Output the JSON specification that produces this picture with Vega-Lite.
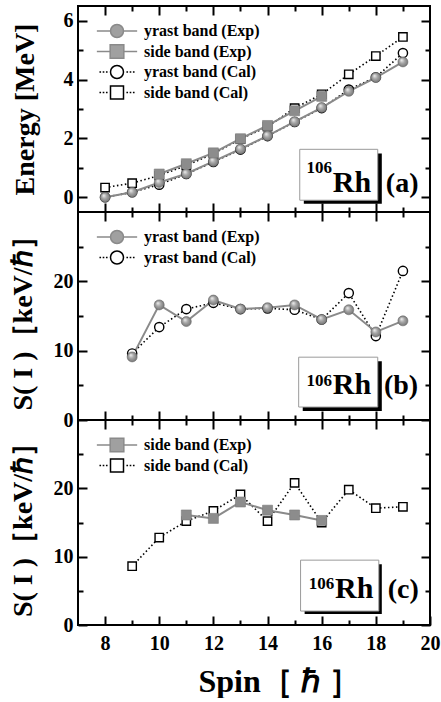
{
  "$schema": "https://vega.github.io/schema/vega-lite/v6.json",
  "padding": {"left": 8, "top": 4, "right": 0, "bottom": 0},
  "spacing": 0,
  "bounds": "flush",
  "resolve": {"scale": {"stroke": "independent"}, "legend": {"stroke": "independent"}},
  "config": {
    "view": {"stroke": "black", "strokeWidth": 2},
    "axis": {"domain": false, "grid": false, "tickColor": "black", "tickWidth": 2,
      "labelFont": "Liberation Serif", "labelFontWeight": "bold", "labelFontSize": 20, "labelColor": "black",
      "titleFont": "Liberation Serif", "titleFontWeight": "bold", "titleColor": "black", "titleFontSize": 28, "labelPadding": 14},
    "legend": {"labelFont": "Liberation Serif", "labelFontWeight": "bold", "labelFontSize": 16, "labelColor": "black"}
  },
  "datasets": {
    "energy": [
      {"series": "yrast band (Exp)", "spin": 8, "value": 0.0},
      {"series": "yrast band (Exp)", "spin": 9, "value": 0.17},
      {"series": "yrast band (Exp)", "spin": 10, "value": 0.5},
      {"series": "yrast band (Exp)", "spin": 11, "value": 0.8},
      {"series": "yrast band (Exp)", "spin": 12, "value": 1.22},
      {"series": "yrast band (Exp)", "spin": 13, "value": 1.64},
      {"series": "yrast band (Exp)", "spin": 14, "value": 2.09},
      {"series": "yrast band (Exp)", "spin": 15, "value": 2.57},
      {"series": "yrast band (Exp)", "spin": 16, "value": 3.05},
      {"series": "yrast band (Exp)", "spin": 17, "value": 3.6},
      {"series": "yrast band (Exp)", "spin": 18, "value": 4.07},
      {"series": "yrast band (Exp)", "spin": 19, "value": 4.6},
      {"series": "side band (Exp)", "spin": 10, "value": 0.79},
      {"series": "side band (Exp)", "spin": 11, "value": 1.14},
      {"series": "side band (Exp)", "spin": 12, "value": 1.51},
      {"series": "side band (Exp)", "spin": 13, "value": 1.99},
      {"series": "side band (Exp)", "spin": 14, "value": 2.44},
      {"series": "side band (Exp)", "spin": 15, "value": 2.94},
      {"series": "side band (Exp)", "spin": 16, "value": 3.43},
      {"series": "yrast band (Cal)", "spin": 8, "value": 0.0},
      {"series": "yrast band (Cal)", "spin": 9, "value": 0.17},
      {"series": "yrast band (Cal)", "spin": 10, "value": 0.43},
      {"series": "yrast band (Cal)", "spin": 11, "value": 0.79},
      {"series": "yrast band (Cal)", "spin": 12, "value": 1.2},
      {"series": "yrast band (Cal)", "spin": 13, "value": 1.62},
      {"series": "yrast band (Cal)", "spin": 14, "value": 2.08},
      {"series": "yrast band (Cal)", "spin": 15, "value": 2.56},
      {"series": "yrast band (Cal)", "spin": 16, "value": 3.03},
      {"series": "yrast band (Cal)", "spin": 17, "value": 3.66},
      {"series": "yrast band (Cal)", "spin": 18, "value": 4.08},
      {"series": "yrast band (Cal)", "spin": 19, "value": 4.9},
      {"series": "side band (Cal)", "spin": 8, "value": 0.33},
      {"series": "side band (Cal)", "spin": 9, "value": 0.48},
      {"series": "side band (Cal)", "spin": 10, "value": 0.74},
      {"series": "side band (Cal)", "spin": 11, "value": 1.08},
      {"series": "side band (Cal)", "spin": 12, "value": 1.48},
      {"series": "side band (Cal)", "spin": 13, "value": 1.98},
      {"series": "side band (Cal)", "spin": 14, "value": 2.4},
      {"series": "side band (Cal)", "spin": 15, "value": 3.03},
      {"series": "side band (Cal)", "spin": 16, "value": 3.5},
      {"series": "side band (Cal)", "spin": 17, "value": 4.18},
      {"series": "side band (Cal)", "spin": 18, "value": 4.8},
      {"series": "side band (Cal)", "spin": 19, "value": 5.45}
    ],
    "sy": [
      {"series": "yrast band (Exp)", "spin": 9, "value": 9.1},
      {"series": "yrast band (Exp)", "spin": 10, "value": 16.6},
      {"series": "yrast band (Exp)", "spin": 11, "value": 14.2},
      {"series": "yrast band (Exp)", "spin": 12, "value": 17.3},
      {"series": "yrast band (Exp)", "spin": 13, "value": 16.0},
      {"series": "yrast band (Exp)", "spin": 14, "value": 16.2},
      {"series": "yrast band (Exp)", "spin": 15, "value": 16.6},
      {"series": "yrast band (Exp)", "spin": 16, "value": 14.5},
      {"series": "yrast band (Exp)", "spin": 17, "value": 15.9},
      {"series": "yrast band (Exp)", "spin": 18, "value": 12.7},
      {"series": "yrast band (Exp)", "spin": 19, "value": 14.3},
      {"series": "yrast band (Cal)", "spin": 9, "value": 9.6},
      {"series": "yrast band (Cal)", "spin": 10, "value": 13.4},
      {"series": "yrast band (Cal)", "spin": 11, "value": 16.0},
      {"series": "yrast band (Cal)", "spin": 12, "value": 16.9},
      {"series": "yrast band (Cal)", "spin": 13, "value": 16.0},
      {"series": "yrast band (Cal)", "spin": 14, "value": 16.1},
      {"series": "yrast band (Cal)", "spin": 15, "value": 15.9},
      {"series": "yrast band (Cal)", "spin": 16, "value": 14.5},
      {"series": "yrast band (Cal)", "spin": 17, "value": 18.3},
      {"series": "yrast band (Cal)", "spin": 18, "value": 12.1},
      {"series": "yrast band (Cal)", "spin": 19, "value": 21.5}
    ],
    "ss": [
      {"series": "side band (Exp)", "spin": 11, "value": 16.1},
      {"series": "side band (Exp)", "spin": 12, "value": 15.6},
      {"series": "side band (Exp)", "spin": 13, "value": 18.0},
      {"series": "side band (Exp)", "spin": 14, "value": 16.8},
      {"series": "side band (Exp)", "spin": 15, "value": 16.1},
      {"series": "side band (Exp)", "spin": 16, "value": 15.3},
      {"series": "side band (Cal)", "spin": 9, "value": 8.6},
      {"series": "side band (Cal)", "spin": 10, "value": 12.8},
      {"series": "side band (Cal)", "spin": 11, "value": 15.2},
      {"series": "side band (Cal)", "spin": 12, "value": 16.7},
      {"series": "side band (Cal)", "spin": 13, "value": 19.1},
      {"series": "side band (Cal)", "spin": 14, "value": 15.2},
      {"series": "side band (Cal)", "spin": 15, "value": 20.8},
      {"series": "side band (Cal)", "spin": 16, "value": 15.0},
      {"series": "side band (Cal)", "spin": 17, "value": 19.8},
      {"series": "side band (Cal)", "spin": 18, "value": 17.1},
      {"series": "side band (Cal)", "spin": 19, "value": 17.3}
    ]
  },
  "vconcat": [
    {
      "width": 352, "height": 206,
      "data": {"name": "energy"},
      "resolve": {"axis": {"x": "independent", "y": "independent"}},
      "layer": [
        {"data": {"values": [{"label": "106Rh"}]}, "mark": {"type": "rect", "color": "black"},
         "encoding": {"x": {"datum": 15.34, "type": "quantitative", "scale": {"domain": [7, 20], "nice": false, "zero": false}, "axis": null}, "x2": {"datum": 18.22},
                      "y": {"datum": -0.22, "type": "quantitative", "scale": {"domain": [-0.5, 6.5], "nice": false, "zero": false}, "axis": null}, "y2": {"datum": 1.49}}},
        {"data": {"values": [{"label": "106Rh"}]}, "mark": {"type": "rect", "fill": "white", "stroke": "#9a9a9a", "strokeWidth": 1},
         "encoding": {"x": {"datum": 15.19, "type": "quantitative", "scale": {"domain": [7, 20], "nice": false, "zero": false}, "axis": null}, "x2": {"datum": 18.07},
                      "y": {"datum": -0.1, "type": "quantitative", "scale": {"domain": [-0.5, 6.5], "nice": false, "zero": false}, "axis": null}, "y2": {"datum": 1.63}}},
        {"data": {"values": [{"t": "106"}]}, "mark": {"type": "text", "align": "left", "baseline": "alphabetic", "font": "Liberation Serif", "fontWeight": "bold", "fontSize": 17, "color": "black"},
         "encoding": {"x": {"datum": 15.44, "type": "quantitative", "scale": {"domain": [7, 20], "nice": false, "zero": false}, "axis": null},
                      "y": {"datum": 0.81, "type": "quantitative", "scale": {"domain": [-0.5, 6.5], "nice": false, "zero": false}, "axis": null}, "text": {"field": "t"}}},
        {"data": {"values": [{"t": "Rh"}]}, "mark": {"type": "text", "align": "left", "baseline": "alphabetic", "font": "Liberation Serif", "fontWeight": "bold", "fontSize": 30, "color": "black"},
         "encoding": {"x": {"datum": 16.41, "type": "quantitative", "scale": {"domain": [7, 20], "nice": false, "zero": false}, "axis": null},
                      "y": {"datum": 0.17, "type": "quantitative", "scale": {"domain": [-0.5, 6.5], "nice": false, "zero": false}, "axis": null}, "text": {"field": "t"}}},
        {"data": {"values": [{"t": "(a)"}]}, "mark": {"type": "text", "align": "left", "baseline": "alphabetic", "font": "Liberation Serif", "fontWeight": "bold", "fontSize": 28, "color": "black"},
         "encoding": {"x": {"datum": 18.37, "type": "quantitative", "scale": {"domain": [7, 20], "nice": false, "zero": false}, "axis": null},
                      "y": {"datum": 0.17, "type": "quantitative", "scale": {"domain": [-0.5, 6.5], "nice": false, "zero": false}, "axis": null}, "text": {"field": "t"}}},
        {"transform": [{"filter": "indexof(datum.series, 'Cal') >= 0"}],
         "mark": {"type": "line", "strokeDash": [1.5, 2.5], "strokeWidth": 1.6},
         "encoding": {
           "x": {"field": "spin", "type": "quantitative", "scale": {"domain": [7, 20], "nice": false, "zero": false},
                 "axis": {"orient": "bottom", "values": [8, 9, 10, 11, 12, 13, 14, 15, 16, 17, 18, 19], "labels": false, "title": null,
                          "tickSize": {"condition": {"test": "datum.value % 2 === 0", "value": -9}, "value": -5}}},
           "y": {"field": "value", "type": "quantitative", "scale": {"domain": [-0.5, 6.5], "nice": false, "zero": false},
                 "axis": {"orient": "left", "values": [0, 1, 2, 3, 4, 5, 6], "labelExpr": "datum.value % 2 === 0 ? datum.label : ''", "title": "Energy [MeV]", "titlePadding": 24,
                          "tickSize": {"condition": {"test": "datum.value % 2 === 0", "value": -9}, "value": -5}}},
           "stroke": {"field": "series", "type": "nominal",
                      "scale": {"domain": ["yrast band (Exp)", "side band (Exp)", "yrast band (Cal)", "side band (Cal)"], "range": ["#8a8a8a", "#8a8a8a", "black", "black"]},
                      "legend": {"title": null, "orient": "top-left", "offset": 17, "padding": 0, "symbolOffset": 14, "labelOffset": 19, "rowPadding": 0.5, "symbolSize": 169, "symbolStrokeWidth": 1.5,
                                 "encode": {"symbols": {"update": {
                                   "shape": {"signal": "datum.value === 'yrast band (Exp)' ? 'M-3.1,0H-1M1,0H3.1M-1,0A1,1,0,1,1,1,0A1,1,0,1,1,-1,0Z' : datum.value === 'side band (Exp)' ? 'M-3.1,0H-1.05M1.05,0H3.1M-1.05,-1.05H1.05V1.05H-1.05Z' : datum.value === 'yrast band (Cal)' ? 'M-2.7,0h0.25M-2.2,0h0.25M-1.7,0h0.25M1.45,0h0.25M1.95,0h0.25M2.45,0h0.25M-1,0A1,1,0,1,1,1,0A1,1,0,1,1,-1,0Z' : 'M-2.7,0h0.25M-2.2,0h0.25M-1.7,0h0.25M1.45,0h0.25M1.95,0h0.25M2.45,0h0.25M-1,-1H1V1H-1Z'"},
                                   "fill": {"signal": "indexof(datum.value, 'Exp') >= 0 ? '#a0a0a0' : 'white'"},
                                   "strokeDash": {"value": []},
                                   "opacity": {"value": 1}}}}}}
         }},
        {"transform": [{"filter": "indexof(datum.series, 'Exp') >= 0"}],
         "mark": {"type": "line", "strokeWidth": 2},
         "encoding": {
           "x": {"field": "spin", "type": "quantitative", "scale": {"domain": [7, 20], "nice": false, "zero": false},
                 "axis": {"orient": "top", "values": [8, 9, 10, 11, 12, 13, 14, 15, 16, 17, 18, 19], "labels": false, "title": null,
                          "tickSize": {"condition": {"test": "datum.value % 2 === 0", "value": -9}, "value": -5}}},
           "y": {"field": "value", "type": "quantitative", "scale": {"domain": [-0.5, 6.5], "nice": false, "zero": false},
                 "axis": {"orient": "right", "values": [0, 1, 2, 3, 4, 5, 6], "labels": false, "title": null,
                          "tickSize": {"condition": {"test": "datum.value % 2 === 0", "value": -9}, "value": -5}}},
           "stroke": {"field": "series", "type": "nominal",
                      "scale": {"domain": ["yrast band (Exp)", "side band (Exp)", "yrast band (Cal)", "side band (Cal)"], "range": ["#8a8a8a", "#8a8a8a", "black", "black"]},
                      "legend": null}
         }},
        {"transform": [{"filter": "datum.series === 'yrast band (Cal)'"}],
         "mark": {"type": "point", "shape": "circle", "filled": true, "fill": "white", "stroke": "black", "strokeWidth": 1.4, "size": 85, "opacity": 1},
         "encoding": {"x": {"field": "spin", "type": "quantitative", "scale": {"domain": [7, 20], "nice": false, "zero": false}, "axis": null},
                      "y": {"field": "value", "type": "quantitative", "scale": {"domain": [-0.5, 6.5], "nice": false, "zero": false}, "axis": null}}},
        {"transform": [{"filter": "datum.series === 'side band (Cal)'"}],
         "mark": {"type": "point", "shape": "square", "filled": true, "fill": "white", "stroke": "black", "strokeWidth": 1.4, "size": 70, "opacity": 1},
         "encoding": {"x": {"field": "spin", "type": "quantitative", "scale": {"domain": [7, 20], "nice": false, "zero": false}, "axis": null},
                      "y": {"field": "value", "type": "quantitative", "scale": {"domain": [-0.5, 6.5], "nice": false, "zero": false}, "axis": null}}},
        {"transform": [{"filter": "datum.series === 'yrast band (Exp)'"}],
         "mark": {"type": "point", "shape": "circle", "filled": true, "stroke": "#6a6a6a", "strokeWidth": 0.6, "size": 100, "opacity": 1,
                  "fill": {"gradient": "radial", "x1": 0.35, "y1": 0.3, "r1": 0, "x2": 0.5, "y2": 0.5, "r2": 0.55, "stops": [{"offset": 0, "color": "#f4f4f4"}, {"offset": 0.45, "color": "#a8a8a8"}, {"offset": 1, "color": "#707070"}]}},
         "encoding": {"x": {"field": "spin", "type": "quantitative", "scale": {"domain": [7, 20], "nice": false, "zero": false}, "axis": null},
                      "y": {"field": "value", "type": "quantitative", "scale": {"domain": [-0.5, 6.5], "nice": false, "zero": false}, "axis": null}}},
        {"transform": [{"filter": "datum.series === 'side band (Exp)'"}],
         "mark": {"type": "point", "shape": "square", "filled": true, "fill": "#8c8c8c", "stroke": "#7a7a7a", "strokeWidth": 0.6, "size": 100, "opacity": 1},
         "encoding": {"x": {"field": "spin", "type": "quantitative", "scale": {"domain": [7, 20], "nice": false, "zero": false}, "axis": null},
                      "y": {"field": "value", "type": "quantitative", "scale": {"domain": [-0.5, 6.5], "nice": false, "zero": false}, "axis": null}}}
      ]
    },
    {
      "width": 352, "height": 208,
      "data": {"name": "sy"},
      "resolve": {"axis": {"x": "independent", "y": "independent"}},
      "layer": [
        {"data": {"values": [{"label": "106Rh"}]}, "mark": {"type": "rect", "color": "black"},
         "encoding": {"x": {"datum": 15.3, "type": "quantitative", "scale": {"domain": [7, 20], "nice": false, "zero": false}, "axis": null}, "x2": {"datum": 18.22},
                      "y": {"datum": 1.3, "type": "quantitative", "scale": {"domain": [0, 30], "nice": false, "zero": false}, "axis": null}, "y2": {"datum": 8.49}}},
        {"data": {"values": [{"label": "106Rh"}]}, "mark": {"type": "rect", "fill": "white", "stroke": "#9a9a9a", "strokeWidth": 1},
         "encoding": {"x": {"datum": 15.15, "type": "quantitative", "scale": {"domain": [7, 20], "nice": false, "zero": false}, "axis": null}, "x2": {"datum": 18.07},
                      "y": {"datum": 1.87, "type": "quantitative", "scale": {"domain": [0, 30], "nice": false, "zero": false}, "axis": null}, "y2": {"datum": 9.06}}},
        {"data": {"values": [{"t": "106"}]}, "mark": {"type": "text", "align": "left", "baseline": "alphabetic", "font": "Liberation Serif", "fontWeight": "bold", "fontSize": 17, "color": "black"},
         "encoding": {"x": {"datum": 15.44, "type": "quantitative", "scale": {"domain": [7, 20], "nice": false, "zero": false}, "axis": null},
                      "y": {"datum": 4.89, "type": "quantitative", "scale": {"domain": [0, 30], "nice": false, "zero": false}, "axis": null}, "text": {"field": "t"}}},
        {"data": {"values": [{"t": "Rh"}]}, "mark": {"type": "text", "align": "left", "baseline": "alphabetic", "font": "Liberation Serif", "fontWeight": "bold", "fontSize": 30, "color": "black"},
         "encoding": {"x": {"datum": 16.41, "type": "quantitative", "scale": {"domain": [7, 20], "nice": false, "zero": false}, "axis": null},
                      "y": {"datum": 3.74, "type": "quantitative", "scale": {"domain": [0, 30], "nice": false, "zero": false}, "axis": null}, "text": {"field": "t"}}},
        {"data": {"values": [{"t": "(b)"}]}, "mark": {"type": "text", "align": "left", "baseline": "alphabetic", "font": "Liberation Serif", "fontWeight": "bold", "fontSize": 28, "color": "black"},
         "encoding": {"x": {"datum": 18.3, "type": "quantitative", "scale": {"domain": [7, 20], "nice": false, "zero": false}, "axis": null},
                      "y": {"datum": 3.74, "type": "quantitative", "scale": {"domain": [0, 30], "nice": false, "zero": false}, "axis": null}, "text": {"field": "t"}}},
        {"transform": [{"filter": "indexof(datum.series, 'Cal') >= 0"}],
         "mark": {"type": "line", "strokeDash": [1.5, 2.5], "strokeWidth": 1.6},
         "encoding": {
           "x": {"field": "spin", "type": "quantitative", "scale": {"domain": [7, 20], "nice": false, "zero": false},
                 "axis": {"orient": "bottom", "values": [8, 9, 10, 11, 12, 13, 14, 15, 16, 17, 18, 19], "labels": false, "title": null,
                          "tickSize": {"condition": {"test": "datum.value % 2 === 0", "value": -9}, "value": -5}}},
           "y": {"field": "value", "type": "quantitative", "scale": {"domain": [0, 30], "nice": false, "zero": false},
                 "axis": {"orient": "left", "values": [0, 5, 10, 15, 20, 25], "labelExpr": "datum.value % 10 === 0 ? datum.label : ''", "title": "S( I )［keV/ℏ］", "titlePadding": 16,
                          "tickSize": {"condition": {"test": "datum.value % 10 === 0", "value": -9}, "value": -5}}},
           "stroke": {"field": "series", "type": "nominal",
                      "scale": {"domain": ["yrast band (Exp)", "yrast band (Cal)"], "range": ["#8a8a8a", "black"]},
                      "legend": {"title": null, "orient": "top-left", "offset": 17, "padding": 0, "symbolOffset": 14, "labelOffset": 19, "rowPadding": 0.5, "symbolSize": 169, "symbolStrokeWidth": 1.5,
                                 "encode": {"symbols": {"update": {
                                   "shape": {"signal": "datum.value === 'yrast band (Exp)' ? 'M-3.1,0H-1M1,0H3.1M-1,0A1,1,0,1,1,1,0A1,1,0,1,1,-1,0Z' : 'M-2.7,0h0.25M-2.2,0h0.25M-1.7,0h0.25M1.45,0h0.25M1.95,0h0.25M2.45,0h0.25M-1,0A1,1,0,1,1,1,0A1,1,0,1,1,-1,0Z'"},
                                   "fill": {"signal": "indexof(datum.value, 'Exp') >= 0 ? '#a0a0a0' : 'white'"},
                                   "strokeDash": {"value": []},
                                   "opacity": {"value": 1}}}}}}
         }},
        {"transform": [{"filter": "indexof(datum.series, 'Exp') >= 0"}],
         "mark": {"type": "line", "strokeWidth": 2},
         "encoding": {
           "x": {"field": "spin", "type": "quantitative", "scale": {"domain": [7, 20], "nice": false, "zero": false},
                 "axis": {"orient": "top", "values": [8, 9, 10, 11, 12, 13, 14, 15, 16, 17, 18, 19], "labels": false, "title": null,
                          "tickSize": {"condition": {"test": "datum.value % 2 === 0", "value": -9}, "value": -5}}},
           "y": {"field": "value", "type": "quantitative", "scale": {"domain": [0, 30], "nice": false, "zero": false},
                 "axis": {"orient": "right", "values": [0, 5, 10, 15, 20, 25], "labels": false, "title": null,
                          "tickSize": {"condition": {"test": "datum.value % 10 === 0", "value": -9}, "value": -5}}},
           "stroke": {"field": "series", "type": "nominal",
                      "scale": {"domain": ["yrast band (Exp)", "yrast band (Cal)"], "range": ["#8a8a8a", "black"]},
                      "legend": null}
         }},
        {"transform": [{"filter": "datum.series === 'yrast band (Cal)'"}],
         "mark": {"type": "point", "shape": "circle", "filled": true, "fill": "white", "stroke": "black", "strokeWidth": 1.4, "size": 85, "opacity": 1},
         "encoding": {"x": {"field": "spin", "type": "quantitative", "scale": {"domain": [7, 20], "nice": false, "zero": false}, "axis": null},
                      "y": {"field": "value", "type": "quantitative", "scale": {"domain": [0, 30], "nice": false, "zero": false}, "axis": null}}},
        {"transform": [{"filter": "datum.series === 'yrast band (Exp)'"}],
         "mark": {"type": "point", "shape": "circle", "filled": true, "stroke": "#6a6a6a", "strokeWidth": 0.6, "size": 100, "opacity": 1,
                  "fill": {"gradient": "radial", "x1": 0.35, "y1": 0.3, "r1": 0, "x2": 0.5, "y2": 0.5, "r2": 0.55, "stops": [{"offset": 0, "color": "#f4f4f4"}, {"offset": 0.45, "color": "#a8a8a8"}, {"offset": 1, "color": "#707070"}]}},
         "encoding": {"x": {"field": "spin", "type": "quantitative", "scale": {"domain": [7, 20], "nice": false, "zero": false}, "axis": null},
                      "y": {"field": "value", "type": "quantitative", "scale": {"domain": [0, 30], "nice": false, "zero": false}, "axis": null}}}
      ]
    },
    {
      "width": 352, "height": 205,
      "data": {"name": "ss"},
      "resolve": {"axis": {"x": "independent", "y": "independent"}},
      "layer": [
        {"data": {"values": [{"label": "106Rh"}]}, "mark": {"type": "rect", "color": "black"},
         "encoding": {"x": {"datum": 15.37, "type": "quantitative", "scale": {"domain": [7, 20], "nice": false, "zero": false}, "axis": null}, "x2": {"datum": 18.22},
                      "y": {"datum": 1.6, "type": "quantitative", "scale": {"domain": [0, 30], "nice": false, "zero": false}, "axis": null}, "y2": {"datum": 8.9}}},
        {"data": {"values": [{"label": "106Rh"}]}, "mark": {"type": "rect", "fill": "white", "stroke": "#9a9a9a", "strokeWidth": 1},
         "encoding": {"x": {"datum": 15.22, "type": "quantitative", "scale": {"domain": [7, 20], "nice": false, "zero": false}, "axis": null}, "x2": {"datum": 18.11},
                      "y": {"datum": 2.04, "type": "quantitative", "scale": {"domain": [0, 30], "nice": false, "zero": false}, "axis": null}, "y2": {"datum": 9.49}}},
        {"data": {"values": [{"t": "106"}]}, "mark": {"type": "text", "align": "left", "baseline": "alphabetic", "font": "Liberation Serif", "fontWeight": "bold", "fontSize": 17, "color": "black"},
         "encoding": {"x": {"datum": 15.52, "type": "quantitative", "scale": {"domain": [7, 20], "nice": false, "zero": false}, "axis": null},
                      "y": {"datum": 5.25, "type": "quantitative", "scale": {"domain": [0, 30], "nice": false, "zero": false}, "axis": null}, "text": {"field": "t"}}},
        {"data": {"values": [{"t": "Rh"}]}, "mark": {"type": "text", "align": "left", "baseline": "alphabetic", "font": "Liberation Serif", "fontWeight": "bold", "fontSize": 30, "color": "black"},
         "encoding": {"x": {"datum": 16.49, "type": "quantitative", "scale": {"domain": [7, 20], "nice": false, "zero": false}, "axis": null},
                      "y": {"datum": 3.94, "type": "quantitative", "scale": {"domain": [0, 30], "nice": false, "zero": false}, "axis": null}, "text": {"field": "t"}}},
        {"data": {"values": [{"t": "(c)"}]}, "mark": {"type": "text", "align": "left", "baseline": "alphabetic", "font": "Liberation Serif", "fontWeight": "bold", "fontSize": 28, "color": "black"},
         "encoding": {"x": {"datum": 18.44, "type": "quantitative", "scale": {"domain": [7, 20], "nice": false, "zero": false}, "axis": null},
                      "y": {"datum": 3.94, "type": "quantitative", "scale": {"domain": [0, 30], "nice": false, "zero": false}, "axis": null}, "text": {"field": "t"}}},
        {"transform": [{"filter": "indexof(datum.series, 'Cal') >= 0"}],
         "mark": {"type": "line", "strokeDash": [1.5, 2.5], "strokeWidth": 1.6},
         "encoding": {
           "x": {"field": "spin", "type": "quantitative", "scale": {"domain": [7, 20], "nice": false, "zero": false},
                 "axis": {"orient": "bottom", "values": [8, 9, 10, 11, 12, 13, 14, 15, 16, 17, 18, 19, 20], "labelExpr": "datum.value % 2 === 0 ? datum.label : ''", "labelFlush": false, "labelPadding": 17,
                          "title": "Spin［ ℏ ］", "titleFontSize": 32, "titlePadding": 13, "titleAlign": "left", "titleX": 120,
                          "tickSize": {"condition": {"test": "datum.value % 2 === 0", "value": -9}, "value": -5}}},
           "y": {"field": "value", "type": "quantitative", "scale": {"domain": [0, 30], "nice": false, "zero": false},
                 "axis": {"orient": "left", "values": [0, 5, 10, 15, 20, 25], "labelExpr": "datum.value % 10 === 0 ? datum.label : ''", "title": "S( I )［keV/ℏ］", "titlePadding": 16,
                          "tickSize": {"condition": {"test": "datum.value % 10 === 0", "value": -9}, "value": -5}}},
           "stroke": {"field": "series", "type": "nominal",
                      "scale": {"domain": ["side band (Exp)", "side band (Cal)"], "range": ["#8a8a8a", "black"]},
                      "legend": {"title": null, "orient": "top-left", "offset": 17, "padding": 0, "symbolOffset": 14, "labelOffset": 19, "rowPadding": 0.5, "symbolSize": 169, "symbolStrokeWidth": 1.5,
                                 "encode": {"symbols": {"update": {
                                   "shape": {"signal": "datum.value === 'side band (Exp)' ? 'M-3.1,0H-1.05M1.05,0H3.1M-1.05,-1.05H1.05V1.05H-1.05Z' : 'M-2.7,0h0.25M-2.2,0h0.25M-1.7,0h0.25M1.45,0h0.25M1.95,0h0.25M2.45,0h0.25M-1,-1H1V1H-1Z'"},
                                   "fill": {"signal": "indexof(datum.value, 'Exp') >= 0 ? '#a0a0a0' : 'white'"},
                                   "strokeDash": {"value": []},
                                   "opacity": {"value": 1}}}}}}
         }},
        {"transform": [{"filter": "indexof(datum.series, 'Exp') >= 0"}],
         "mark": {"type": "line", "strokeWidth": 2},
         "encoding": {
           "x": {"field": "spin", "type": "quantitative", "scale": {"domain": [7, 20], "nice": false, "zero": false},
                 "axis": {"orient": "top", "values": [8, 9, 10, 11, 12, 13, 14, 15, 16, 17, 18, 19], "labels": false, "title": null,
                          "tickSize": {"condition": {"test": "datum.value % 2 === 0", "value": -9}, "value": -5}}},
           "y": {"field": "value", "type": "quantitative", "scale": {"domain": [0, 30], "nice": false, "zero": false},
                 "axis": {"orient": "right", "values": [0, 5, 10, 15, 20, 25], "labels": false, "title": null,
                          "tickSize": {"condition": {"test": "datum.value % 10 === 0", "value": -9}, "value": -5}}},
           "stroke": {"field": "series", "type": "nominal",
                      "scale": {"domain": ["side band (Exp)", "side band (Cal)"], "range": ["#8a8a8a", "black"]},
                      "legend": null}
         }},
        {"transform": [{"filter": "datum.series === 'side band (Cal)'"}],
         "mark": {"type": "point", "shape": "square", "filled": true, "fill": "white", "stroke": "black", "strokeWidth": 1.4, "size": 70, "opacity": 1},
         "encoding": {"x": {"field": "spin", "type": "quantitative", "scale": {"domain": [7, 20], "nice": false, "zero": false}, "axis": null},
                      "y": {"field": "value", "type": "quantitative", "scale": {"domain": [0, 30], "nice": false, "zero": false}, "axis": null}}},
        {"transform": [{"filter": "datum.series === 'side band (Exp)'"}],
         "mark": {"type": "point", "shape": "square", "filled": true, "fill": "#8c8c8c", "stroke": "#7a7a7a", "strokeWidth": 0.6, "size": 100, "opacity": 1},
         "encoding": {"x": {"field": "spin", "type": "quantitative", "scale": {"domain": [7, 20], "nice": false, "zero": false}, "axis": null},
                      "y": {"field": "value", "type": "quantitative", "scale": {"domain": [0, 30], "nice": false, "zero": false}, "axis": null}}}
      ]
    }
  ]
}
